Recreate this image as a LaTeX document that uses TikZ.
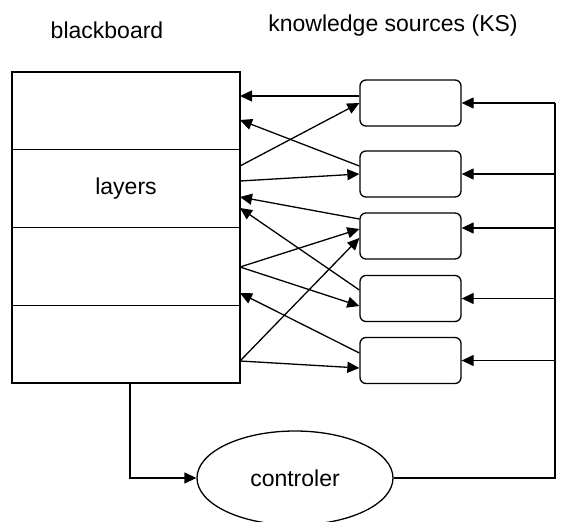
\documentclass[tikz,border=0pt]{standalone}
\usepackage{fontspec}
\setmainfont{Liberation Sans}
\usetikzlibrary{arrows.meta,shapes.geometric}
\begin{document}
\begin{tikzpicture}[x=1pt,y=-1pt,
  line width=1.3pt,
  every node/.style={font=\fontsize{23}{27}\selectfont},
  layer/.style={draw, minimum width=228pt, minimum height=77.75pt, inner sep=0pt, outer sep=0pt},
  ks/.style={draw, rounded corners=6pt, minimum width=101pt, minimum height=46pt, inner sep=0pt},
  ctrl/.style={draw, ellipse, minimum width=196pt, minimum height=94pt, inner sep=0pt},
  arr/.style={-{Triangle[length=12pt,width=11pt]}},
  title/.style={anchor=base, inner sep=0pt}
]
\useasboundingbox (0,0) rectangle (585,521);

% headings
\node[title] (bbtitle) at (107,39) {blackboard};
\node[title] (kstitle) at (393,31.5) {knowledge sources (KS)};

% the blackboard, as four stacked layers
\node[layer] (L1) at (126,110.875) {};
\node[layer] (L2) at (126,188.625) {layers};
\node[layer] (L3) at (126,266.375) {};
\node[layer] (L4) at (126,344.125) {};

% knowledge sources
\node[ks] (k1) at (410.5,103) {};
\node[ks] (k2) at (410.5,174) {};
\node[ks] (k3) at (410.5,236) {};
\node[ks] (k4) at (410.5,298.5) {};
\node[ks] (k5) at (410.5,360.5) {};

% controller
\node[ctrl] (ctl) at (295,478) {controler};

% ports on the right side of the blackboard
\coordinate (in1) at (240,96);
\coordinate (in2) at (240,120);
\coordinate (out1) at (240,166);
\coordinate (out2) at (240,181);
\coordinate (in3) at (240,197);
\coordinate (in4) at (240,208);
\coordinate (out3) at (240,267);
\coordinate (in5) at (240,293);
\coordinate (out4) at (240,361);

% knowledge sources writing to the blackboard
\draw[arr] ([yshift=7pt]k1.west) -- (in1);
\draw[arr] ([yshift=8pt]k2.west) -- (in2);
\draw[arr] ([yshift=17pt]k3.west) -- (in3);
\draw[arr] ([yshift=8.5pt]k4.west) -- (in4);
\draw[arr] ([yshift=7.5pt]k5.west) -- (in5);

% blackboard layers read by knowledge sources
\draw[arr] (out1) -- (k1.west);
\draw[arr] (out2) -- (k2.west);
\draw[arr] (out3) -- ([yshift=7pt]k3.west);
\draw[arr] (out3) -- ([yshift=-7.5pt]k4.west);
\draw[arr] (out4) -- ([yshift=-2pt]k3.west);
\draw[arr] (out4) -- ([yshift=-7.5pt]k5.west);

% blackboard to controller
\draw[arr] ([xshift=4pt]L4.south) |- (ctl.west);

% controller activating the knowledge sources
\coordinate (bus) at (555,103);
\coordinate (k3in) at ([yshift=8pt]k3.east);
\draw (ctl.east) -| (bus);
\draw[arr] (bus) -- (k1.east);
\draw[arr] (bus |- k2.east) -- (k2.east);
\draw[arr] (bus |- k3in) -- (k3in);
\draw[arr] (bus |- k4.east) -- (k4.east);
\draw[arr] (bus |- k5.east) -- (k5.east);
\end{tikzpicture}
\end{document}
